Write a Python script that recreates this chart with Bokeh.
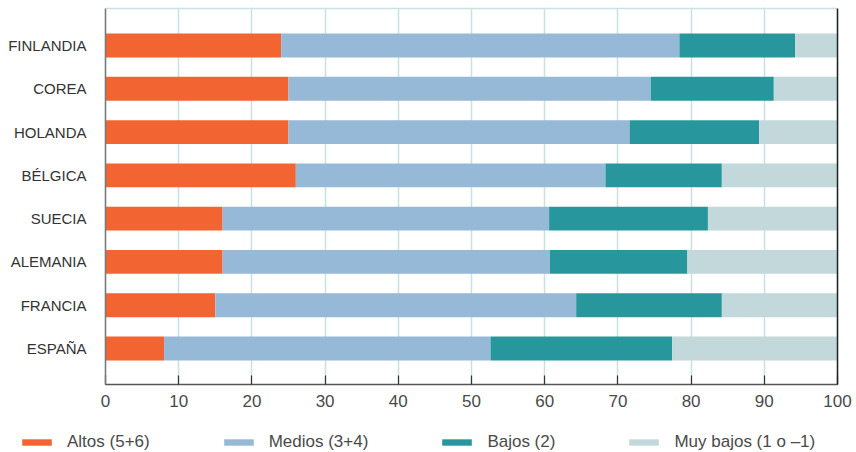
from bokeh.plotting import figure
from bokeh.models import (ColumnDataSource, Range1d, FixedTicker, Legend, LegendItem,
                          LinearAxis, BoxAnnotation)
from bokeh.embed import file_html
from bokeh.resources import INLINE

countries = ["FINLANDIA", "COREA", "HOLANDA", "BÉLGICA", "SUECIA", "ALEMANIA", "FRANCIA", "ESPAÑA"]
altos = [24, 25, 25, 26, 16, 16, 15, 8]
medios = [54.4, 49.5, 46.6, 42.3, 44.6, 44.7, 49.3, 44.6]
bajos = [15.8, 16.8, 17.7, 15.9, 21.7, 18.8, 19.9, 24.8]
muy_bajos = [5.8, 8.7, 10.7, 15.8, 17.7, 20.5, 15.8, 22.6]
series_names = ["Altos (5+6)", "Medios (3+4)", "Bajos (2)", "Muy bajos (1 o \u20131)"]
x_ticks = [0, 10, 20, 30, 40, 50, 60, 70, 80, 90, 100]

colors = ["#F26532", "#97B9D8", "#28979D", "#C3D8DA"]
FONT = "Liberation Sans"
TXT = "#4a4a4a"
GRID = "#C9E1E2"

n = len(countries)
ypos = [n - 1 - i for i in range(n)]
src = ColumnDataSource(dict(y=ypos, altos=altos, medios=medios, bajos=bajos, muy=muy_bajos))

# plotting area bounds (data units)
Y_BOT, Y_TOP = -0.84, 7.85
p = figure(width=856, height=452, min_border=0, output_backend="svg", toolbar_location=None,
           x_range=Range1d(-14.344, 102.596), y_range=Range1d(-2.402, 8.039))
p.outline_line_color = None
p.background_fill_color = "white"
p.border_fill_color = "white"

rs = p.hbar_stack(["altos", "medios", "bajos", "muy"], y="y", height=0.55, color=colors,
                  line_color=None, source=src)

p.ygrid.grid_line_color = None
p.xgrid.ticker = FixedTicker(ticks=x_ticks)
p.xgrid.grid_line_color = GRID
p.xgrid.grid_line_width = 1.5
p.xgrid.level = "underlay"
# mask grid outside the plotting area
p.add_layout(BoxAnnotation(top=Y_BOT, fill_color="white", fill_alpha=1, line_color=None, level="underlay"))
p.add_layout(BoxAnnotation(bottom=Y_TOP, fill_color="white", fill_alpha=1, line_color=None, level="underlay"))

# x axis
xa = p.xaxis[0]
xa.fixed_location = Y_BOT
xa.bounds = (0, 100)
xa.ticker = FixedTicker(ticks=x_ticks)
xa.minor_tick_line_color = None
xa.major_tick_in = 9
xa.major_tick_out = 0
xa.major_tick_line_color = "#333333"
xa.major_tick_line_width = 1.2
xa.axis_line_color = "#555555"
xa.axis_line_width = 1.5
xa.major_label_text_font = FONT
xa.major_label_text_font_size = "17px"
xa.major_label_text_color = TXT
xa.major_label_standoff = 10

# y axis
ya = p.yaxis[0]
ya.fixed_location = 0
ya.bounds = (Y_BOT, Y_TOP)
ya.ticker = FixedTicker(ticks=ypos)
ya.major_label_overrides = {ypos[i]: countries[i] for i in range(n)}
ya.major_tick_line_color = None
ya.minor_tick_line_color = None
ya.axis_line_color = "#7A7A7A"
ya.axis_line_width = 1.5
ya.major_label_text_font = FONT
ya.major_label_text_font_size = "15px"
ya.major_label_text_color = "#333333"
ya.major_label_standoff = 13

# right border and top border
ra = LinearAxis(fixed_location=100, bounds=(Y_BOT, Y_TOP), axis_line_color="#222222",
                axis_line_width=1.5, major_tick_line_color=None, minor_tick_line_color=None,
                major_label_text_font_size="0px", ticker=FixedTicker(ticks=[]))
p.add_layout(ra, "right")
ta = LinearAxis(fixed_location=Y_TOP, bounds=(0, 100), axis_line_color=GRID,
                axis_line_width=1.5, major_tick_line_color=None, minor_tick_line_color=None,
                major_label_text_font_size="0px", ticker=FixedTicker(ticks=[]))
p.add_layout(ta, "above")

items = [LegendItem(label=series_names[i], renderers=[rs[i]]) for i in range(4)]
legend = Legend(items=items, orientation="horizontal", location=(18, 0),
                glyph_width=37, glyph_height=8, label_standoff=12, spacing=70,
                label_text_font=FONT, label_text_font_size="17px", label_text_color=TXT,
                label_height=20, padding=0, margin=0, border_line_color=None,
                background_fill_alpha=0)
p.add_layout(legend)

open("out.html", "w").write(file_html(p, INLINE))
